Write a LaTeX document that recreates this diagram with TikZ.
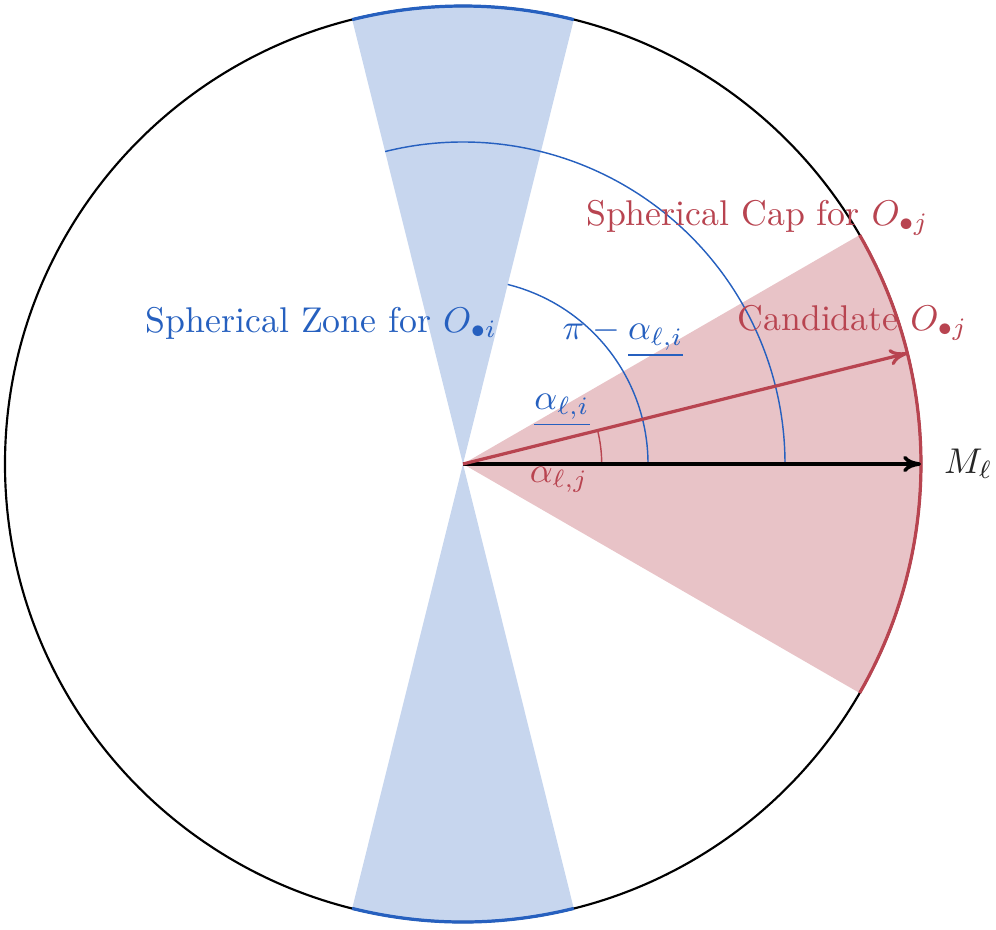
\documentclass[tikz,border=0pt]{standalone}
\usetikzlibrary{arrows.meta, positioning}
\definecolor{zoneblue}{RGB}{38,96,191}
\definecolor{capred}{RGB}{184,68,80}

\begin{document}
\begin{tikzpicture}[->,>={To[length=5pt,width=4.6pt]},semithick]
    \useasboundingbox (-4.549,-4.569) rectangle (5.237,4.559);
    \coordinate (O) at (0,0);
    \coordinate (M) at (0:4.5);
    \coordinate (C) at (14:4.5);

    % zone and cap
    \fill[zoneblue, opacity=0.26] (O) -- (76:4.5) arc (76:104:4.5) -- cycle;
    \fill[zoneblue, opacity=0.26] (O) -- (256:4.5) arc (256:284:4.5) -- cycle;
    \fill[capred, opacity=0.32] (O) -- (-30:4.5) arc (-30:30:4.5) -- cycle;

    \draw[-] (O) circle (4.5);
    \draw[-, zoneblue, line width=0.9pt] (76:4.5) arc (76:104:4.5);
    \draw[-, zoneblue, line width=0.9pt] (256:4.5) arc (256:284:4.5);
    \draw[-, capred, line width=0.9pt] (-30:4.5) arc (-30:30:4.5);

    % angles
    \draw[-, zoneblue, thin] (1.818,0) arc (0:76:1.818);
    \draw[-, zoneblue, thin] (3.164,0) arc (0:104:3.164);
    \draw[-, capred, thin] (1.363,0) arc (0:14:1.363);

    \draw[line width=1pt] (O) -- (M);
    \draw[line width=0.9pt, capred] (O) -- (C);

    \node[zoneblue] (zone) at (-1.39,1.385) {Spherical Zone for $O_{\bullet i}$};
    \node[capred] (cap) at (2.893,2.417) {Spherical Cap for $O_{\bullet j}$};
    \node[capred] (cand) at (3.827,1.385) {Candidate $O_{\bullet j}$};
    \node[zoneblue] (pia) at (1.572,1.238) {$\pi - \underline{\alpha_{\ell,i}}$};
    \node[zoneblue] (ai) at (0.973,0.53) {$\underline{\alpha_{\ell,i}}$};
    \node[capred] (aj) at (0.943,-0.157) {$\alpha_{\ell,j}$};
    \node[black!85] (Ml) [right=0.1cm of M] {$M_\ell$};
\end{tikzpicture}
\end{document}
